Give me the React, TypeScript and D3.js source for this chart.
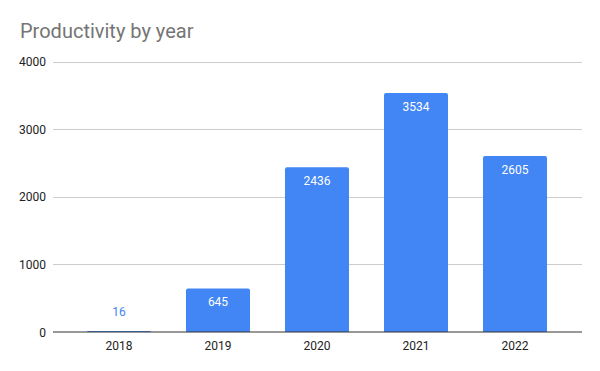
import React from "react";
import * as d3 from "d3";

const years = ["2018", "2019", "2020", "2021", "2022"];
const values = [16, 645, 2436, 3534, 2605];
const yTicks = [0, 1000, 2000, 3000, 4000];
const title = "Productivity by year";

const W = 600;
const H = 371;
const FONT = "Roboto, Arial, sans-serif";
const BLUE = "#4285F4";

function roundedTopBar(x: number, y: number, w: number, h: number, r: number) {
  const rr = Math.min(r, h, w / 2);
  return `M${x},${y + h}V${y + rr}Q${x},${y} ${x + rr},${y}H${x + w - rr}Q${x + w},${y} ${x + w},${y + rr}V${y + h}Z`;
}

export default function App() {
  const x = d3
    .scaleBand<string>()
    .domain(years)
    .range([69.5, 564.5])
    .paddingInner(0.3535)
    .paddingOuter(0.3535 / 2);
  const y = d3.scaleLinear().domain([0, 4000]).range([332, 61.6]);
  const gridX0 = 53;
  const gridX1 = 582;

  return (
    <svg
      width={W}
      height={H}
      style={{ position: "absolute", left: 0, top: 0, background: "#fff" }}
    >
      <text x={20} y={38} fontFamily={FONT} fontSize={20} fill="#757575">
        {title}
      </text>
      {yTicks.map((t) => (
        <g key={t}>
          {t !== 0 && (
            <line
              x1={gridX0}
              x2={gridX1}
              y1={Math.round(y(t)) + 0.5}
              y2={Math.round(y(t)) + 0.5}
              stroke="#cccccc"
              strokeWidth={1}
            />
          )}
          <text
            x={46}
            y={y(t) + 4.5}
            textAnchor="end"
            fontFamily={FONT}
            fontSize={12}
            fill="#222"
          >
            {t}
          </text>
        </g>
      ))}
      {values.map((v, i) => {
        const bx = x(years[i])!;
        const bw = x.bandwidth();
        const top = y(v);
        const h = y(0) - top;
        const inside = h > 30;
        return (
          <g key={years[i]}>
            <path d={roundedTopBar(bx, top, bw, h, 2)} fill={BLUE} />
            <text
              x={bx + bw / 2}
              y={inside ? top + 18 : top - 15}
              textAnchor="middle"
              fontFamily={FONT}
              fontSize={12}
              fill={inside ? "#ffffff" : BLUE}
            >
              {v}
            </text>
            <text
              x={bx + bw / 2}
              y={349.5}
              textAnchor="middle"
              fontFamily={FONT}
              fontSize={12}
              fill="#222"
            >
              {years[i]}
            </text>
          </g>
        );
      })}
      <line
        x1={gridX0}
        x2={gridX1}
        y1={y(0)}
        y2={y(0)}
        stroke="#333333"
        strokeWidth={1}
      />
    </svg>
  );
}
